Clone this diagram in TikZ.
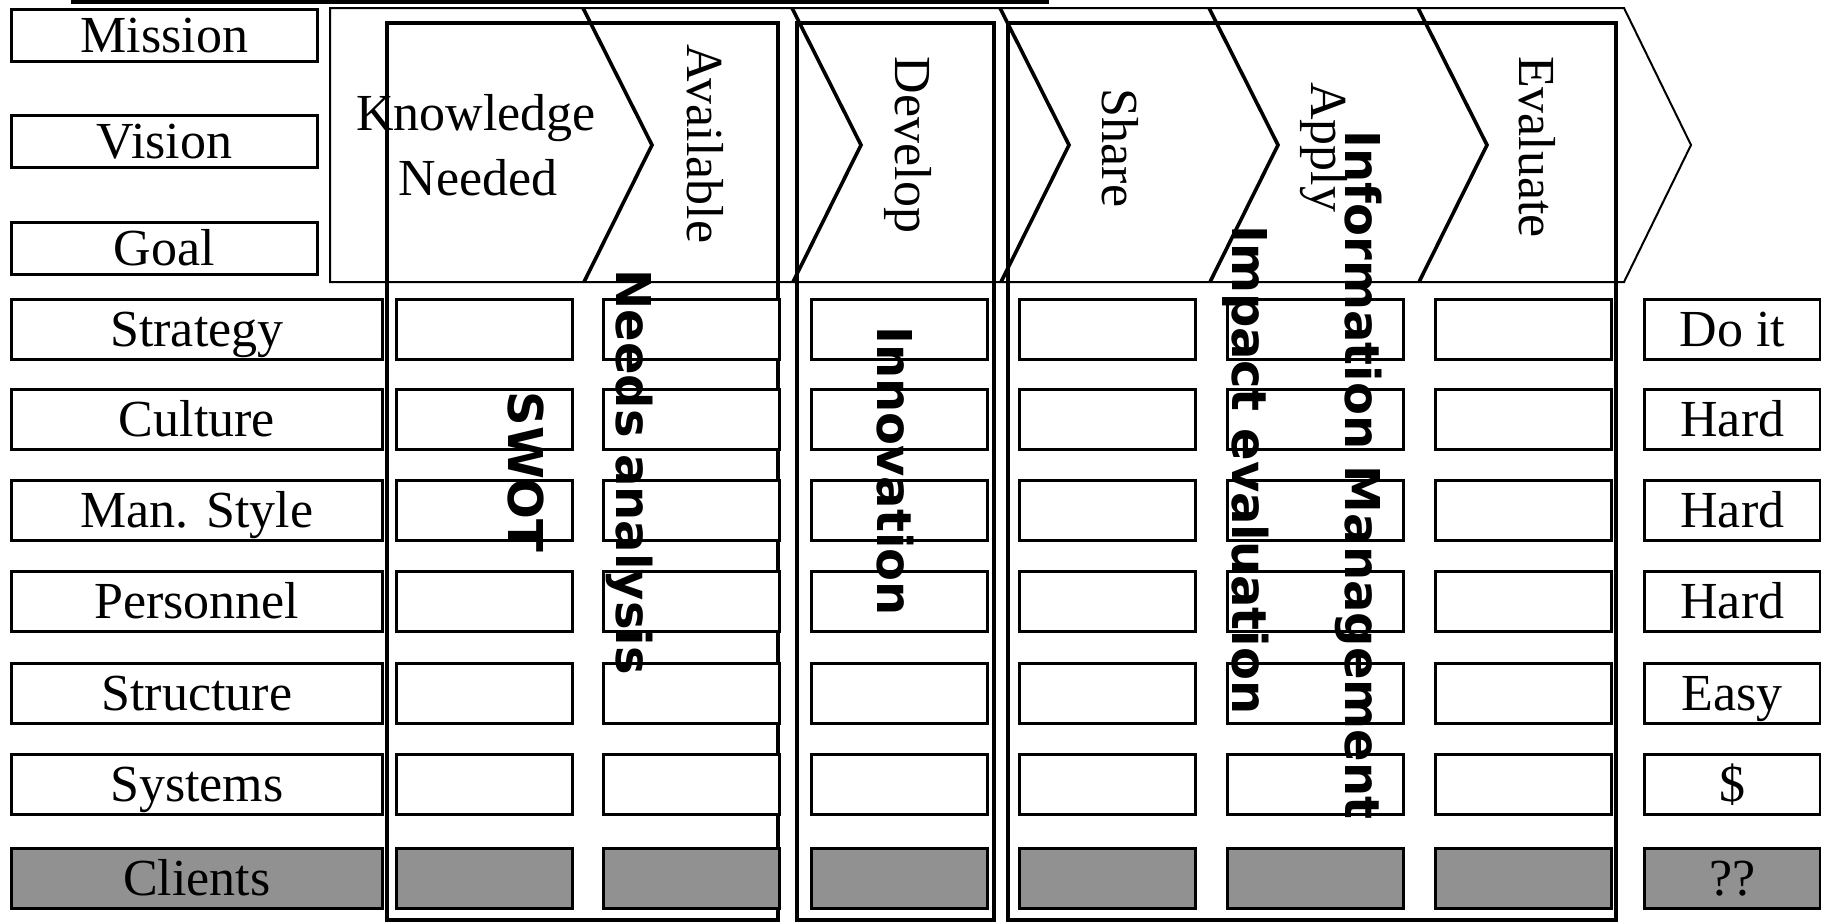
\documentclass[tikz,border=0pt]{standalone}
\usepackage{fontspec}
\setmainfont{Liberation Serif}
\newfontfamily\boldsans{DejaVu Sans}
\definecolor{clientgray}{RGB}{145,145,145}
\begin{document}
\begin{tikzpicture}[x=0.5pt,y=-0.5pt,
  serif/.style={font=\fontsize{26}{30}\selectfont},
  lbl/.style={draw,line width=1.4pt,fill=white,inner sep=0pt,anchor=north west,
    minimum height=30pt,text height=17pt,text depth=0pt,serif},
  cell/.style={lbl,minimum width=88pt},
  side/.style={lbl,minimum width=185.5pt},
  top/.style={lbl,minimum width=153pt,minimum height=26pt},
  client/.style={fill=clientgray},
  bold/.style={font=\boldsans\bfseries\fontsize{24}{28}\selectfont,anchor=base,rotate=-90,inner sep=0pt},
  vtxt/.style={serif,anchor=base,rotate=-90,inner sep=0pt},
  chev/.style={line width=1pt,line join=miter},
  divider/.style={line width=1.8pt},
  grp/.style={line width=1.6pt}
]
\useasboundingbox (0,0) rectangle (1821,922);

% top rule
\draw[line width=2pt] (71,1.5) -- (1049,1.5);

% Mission / Vision / Goal
\node[top] (mission) at (10,8) {Mission};
\node[top] (vision) at (10,114) {Vision};
\node[top] (goal) at (10,221) {Goal};

% chevron band
\draw[chev] (330,8) -- (1624,8) -- (1691,145) -- (1624,282) -- (330,282) -- cycle;
\foreach \b in {583,792,1000,1209,1418}
  \draw[divider] (\b,8) -- (\b+69,145) -- (\b+1,282);

% group frames
\draw[grp] (387,23) rectangle (778,920);
\draw[grp] (797,23) rectangle (994,920);
\draw[grp] (1008,23) rectangle (1616,920);

% chevron labels
\node[serif,anchor=base,inner sep=0pt] (kn1) at (476,130) {Knowledge};
\node[serif,anchor=base,inner sep=0pt] (kn2) at (478,195) {Needed};
\node[vtxt] (avail) at (687,144) {Available};
\node[vtxt] (devel) at (895,145) {Develop};
\node[vtxt] (share) at (1102,148) {Share};
\node[vtxt] (apply) at (1311,147) {Apply};
\node[vtxt] (evalu) at (1519,147) {Evaluate};

% rows
\foreach \r/\y/\t/\s in {1/298/Strategy/Do it,2/388/Culture/Hard,3/479/Man. Style/Hard,
    4/570/Personnel/Hard,5/662/Structure/Easy,6/753/Systems/\$}{
  \node[side] (l\r) at (10,\y) {\t};
  \foreach \c/\x in {1/395,2/602,3/810,4/1018,5/1226,6/1434}
    \node[cell] (c\r\c) at (\x,\y) {};
  \node[cell] (r\r) at (1643,\y) {\s};
}
\node[side,client] (l7) at (10,847) {Clients};
\foreach \c/\x in {1/395,2/602,3/810,4/1018,5/1226,6/1434}
  \node[cell,client] (c7\c) at (\x,847) {};
\node[cell,client] (r7) at (1643,847) {??};

% overlaid bold labels
\node[bold] (swot) at (508,472) {SWOT};
\node[bold] (needs) at (616,472) {Needs analysis};
\node[bold] (innov) at (877,471) {Innovation};
\node[bold] (impact) at (1232,470) {Impact evaluation};
\node[bold] (infom) at (1345,475) {Information Management};
\end{tikzpicture}
\end{document}
